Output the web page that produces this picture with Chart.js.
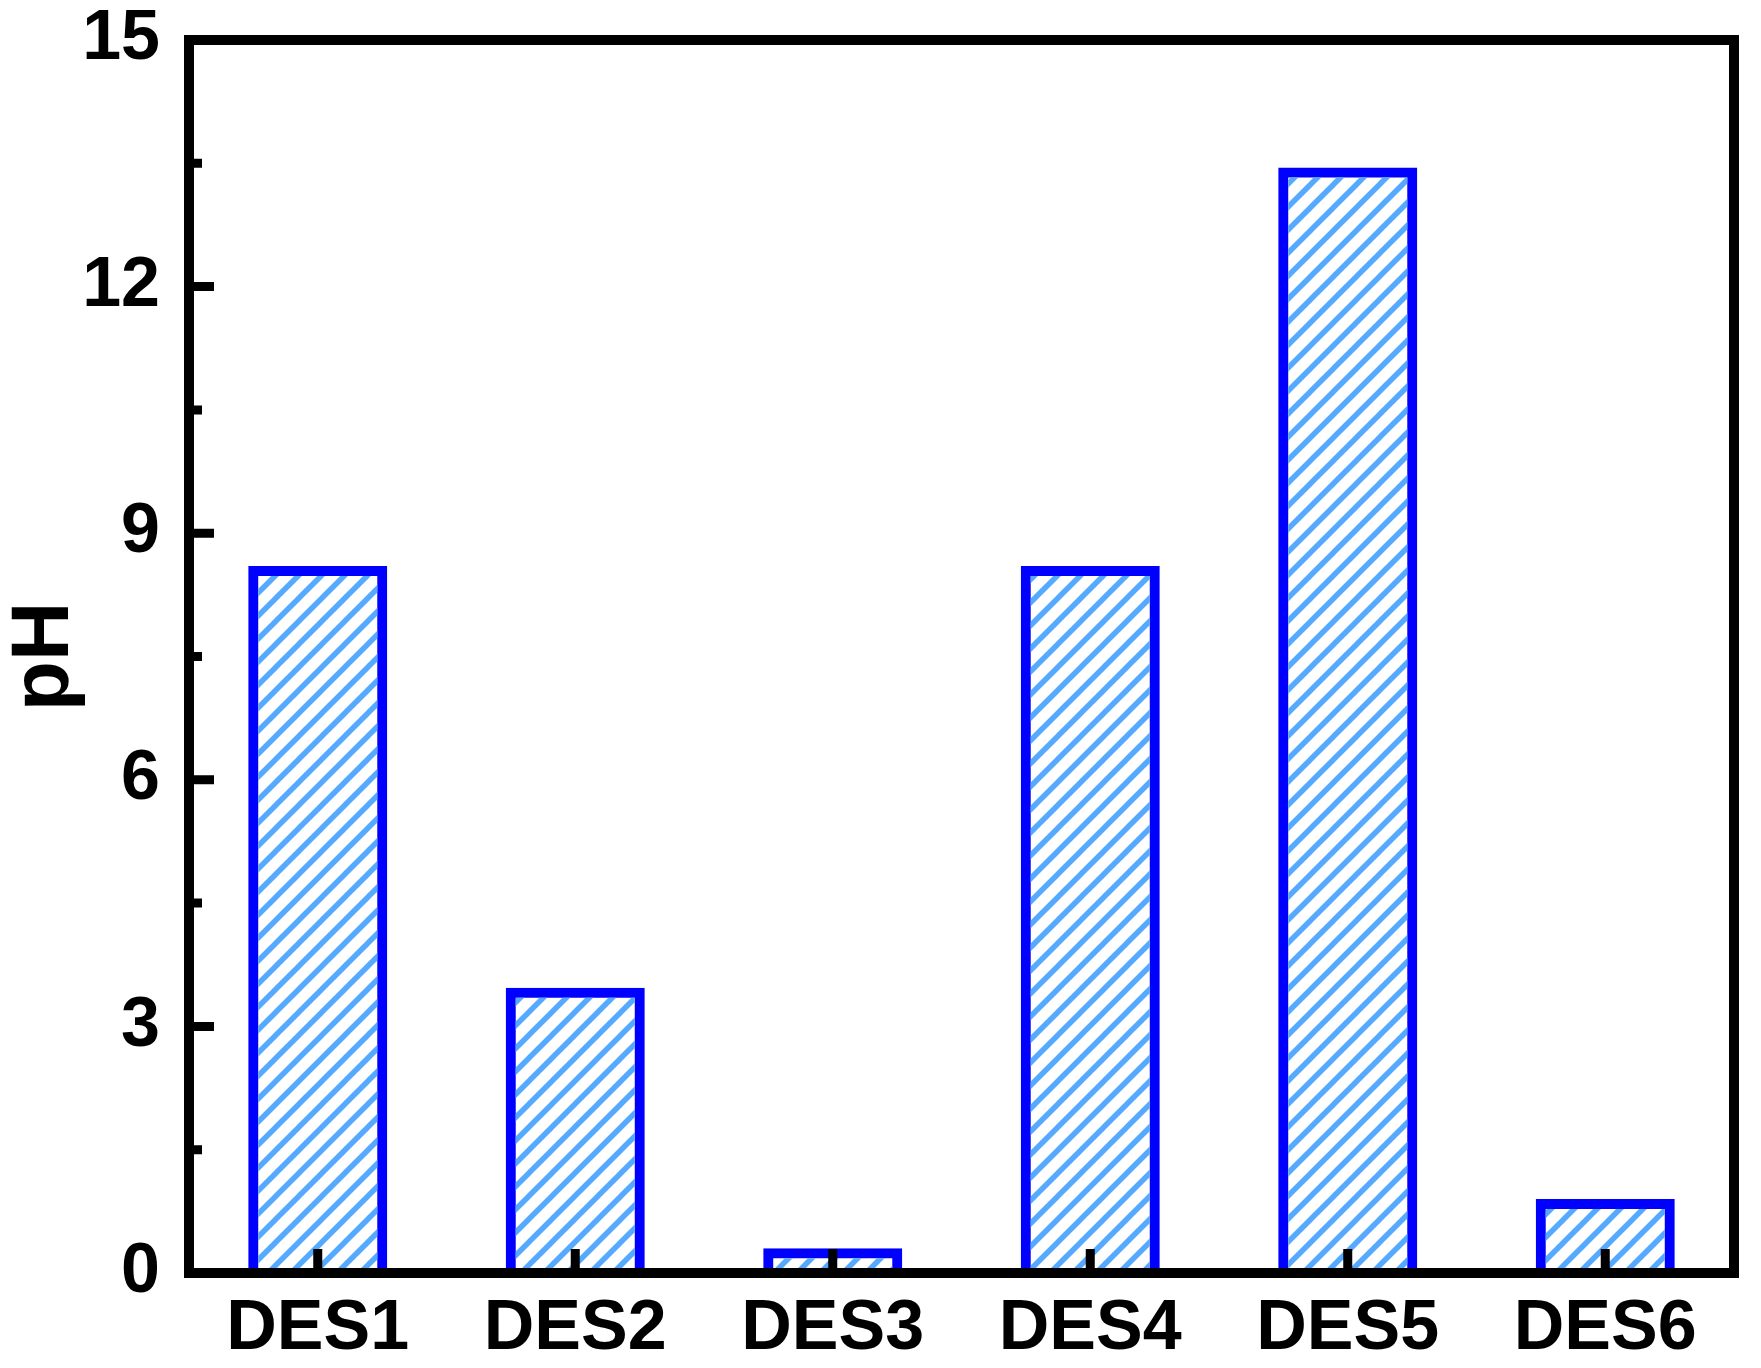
<!DOCTYPE html>
<html>
<head>
<meta charset="utf-8">
<script src="https://cdn.jsdelivr.net/npm/chart.js@4.4.1/dist/chart.umd.min.js"></script>
<style>
  html, body { margin: 0; padding: 0; background: #fff; }
  #wrap { width: 1761px; height: 1368px; }
</style>
</head>
<body>
<div id="wrap"><canvas id="grafica" width="1761" height="1368"></canvas></div>
<script>
const categories = ['DES1', 'DES2', 'DES3', 'DES4', 'DES5', 'DES6'];
const phValues = [8.6, 3.47, 0.3, 8.6, 13.45, 0.9];
const yMajorTicks = [0, 3, 6, 9, 12, 15];
const yMinorTicks = [1.5, 4.5, 7.5, 10.5, 13.5];

const fuente = "'Liberation Sans', Arial, sans-serif";

// diagonal hatch fill, like the Origin pattern
function rayado(color) {
	const s = 23;
	const c = document.createElement('canvas');
	c.width = s;
	c.height = s;
	const g = c.getContext('2d');
	g.strokeStyle = color;
	g.lineWidth = 5.5;
	g.beginPath();
	g.moveTo(-s, s); g.lineTo(s, -s);
	g.moveTo(0, s); g.lineTo(s, 0);
	g.moveTo(0, 2 * s); g.lineTo(2 * s, 0);
	g.stroke();
	return g.createPattern(c, 'repeat');
}

// closed black frame plus inward ticks
const marco = {
	id: 'marco',
	afterDatasetsDraw(chart) {
		const ctx = chart.ctx;
		const a = chart.chartArea;
		const x = chart.scales.x;
		const y = chart.scales.y;
		ctx.save();
		ctx.strokeStyle = '#000';
		ctx.lineWidth = 9;
		ctx.beginPath();
		categories.forEach(function(c, i) {
			const px = x.getPixelForValue(i);
			ctx.moveTo(px, a.bottom);
			ctx.lineTo(px, a.bottom - 24);
		});
		yMajorTicks.forEach(function(v) {
			const py = y.getPixelForValue(v);
			ctx.moveTo(a.left, py);
			ctx.lineTo(a.left + 25, py);
		});
		yMinorTicks.forEach(function(v) {
			const py = y.getPixelForValue(v);
			ctx.moveTo(a.left, py);
			ctx.lineTo(a.left + 13, py);
		});
		ctx.stroke();
		ctx.lineWidth = 10;
		ctx.lineJoin = 'miter';
		ctx.strokeRect(a.left, a.top, a.right - a.left, a.bottom - a.top);
		ctx.restore();
	}
};

const graph = document.querySelector('#grafica');

const dataset1 = {
	label: 'pH',
	data: phValues,
	backgroundColor: rayado('#55AAFF'),
	borderColor: '#0000FF',
	borderWidth: 10,
	borderSkipped: 'start',
	categoryPercentage: 1,
	barPercentage: 0.54
};

const config = {
	type: 'bar',
	data: {
		labels: categories,
		datasets: [dataset1]
	},
	options: {
		responsive: false,
		devicePixelRatio: 1,
		animation: false,
		layout: { padding: { left: 0, top: 40, right: 27, bottom: 0 } },
		plugins: {
			legend: { display: false },
			tooltip: { enabled: false }
		},
		scales: {
			x: {
				grid: { display: false, drawTicks: false },
				border: { display: false },
				ticks: {
					color: '#000',
					padding: 15,
					maxRotation: 0,
					font: { family: fuente, size: 70, weight: 'bold' }
				},
				afterFit: function(s) {
					s.height = 95;
					s.paddingLeft = 0;
					s.paddingRight = 0;
				}
			},
			y: {
				min: 0,
				max: 15,
				grid: { display: false, drawTicks: false },
				border: { display: false },
				ticks: {
					stepSize: 3,
					color: '#000',
					padding: 29,
					font: { family: fuente, size: 70, weight: 'bold', lineHeight: 1 }
				},
				title: {
					display: true,
					text: 'pH',
					color: '#000',
					padding: 0,
					font: { family: fuente, size: 82, weight: 'bold', lineHeight: 1.1 }
				},
				afterFit: function(s) {
					s.width = 189;
					s.paddingTop = 0;
					s.paddingBottom = 0;
				}
			}
		}
	},
	plugins: [marco]
};

new Chart(graph, config);
</script>
</body>
</html>
